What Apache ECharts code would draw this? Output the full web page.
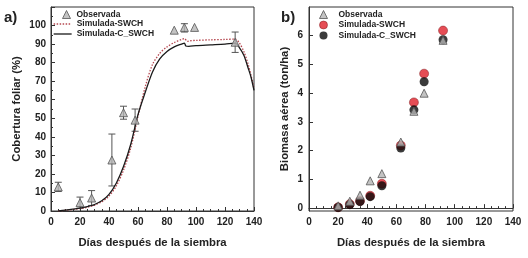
<!DOCTYPE html>
<html>
<head>
<meta charset="utf-8">
<script src="https://cdn.jsdelivr.net/npm/echarts@6/dist/echarts.min.js"></script>
<style>
    html, body {margin: 0; padding: 0; background: #fff;}
    #chart {width: 528px; height: 258px;}
</style>
</head>
<body>
<div id="chart"></div>
<script>
// a) cobertura foliar observada
var obsDiaA = [5, 20, 28, 42, 50, 58, 85, 92, 99, 127];
var obsCobertura = [13, 4.5, 7, 27.5, 53, 49, 97.5, 99, 99, 91];
var obsErrBajo = [2.5, 3, 4, 14, 3.5, 6, 0, 2.5, 0, 5.5];
var obsErrAlto = [2.5, 3, 4, 14, 3.5, 6, 0, 2, 0, 5.5];

// a) curvas simuladas
var simDiaSWCH = [5, 10, 15, 20, 25, 30, 35, 40, 45, 50, 55, 60, 65, 70, 75, 80, 85, 90, 92, 94, 96, 100, 110, 120, 127, 130, 133, 136, 138, 140];
var simSWCH = [0, 0.4, 0.8, 1.3, 2, 3.2, 5, 8, 13.5, 22, 34, 51, 67, 79, 85, 88.5, 90.8, 92.5, 93, 91.5, 91.8, 92, 92.3, 92.5, 92.7, 90.5, 86, 79, 73, 66];
var simDiaCSWCH = [5, 10, 15, 20, 25, 30, 35, 40, 45, 50, 55, 60, 65, 70, 75, 80, 85, 90, 92, 93, 95, 100, 110, 120, 127, 130, 133, 136, 138, 140];
var simCSWCH = [0, 0.5, 1, 1.5, 2.3, 3.5, 5.5, 9, 15, 24, 36, 52, 64, 75, 82, 86, 88.5, 90, 90.5, 89, 88.8, 89.2, 89.6, 90, 90.5, 88, 84, 77, 72, 65];

// b) biomasa aerea
var diaB = [20, 28, 35, 42, 50, 63, 72, 79, 92];
var obsBiomasa = [0.08, 0.24, 0.45, 0.95, 1.2, 2.3, 3.37, 4.0, 5.84];
var simBiomasaSWCH = [0.03, 0.14, 0.25, 0.43, 0.85, 2.18, 3.68, 4.68, 6.18];
var simBiomasaCSWCH = [0.02, 0.12, 0.23, 0.4, 0.78, 2.09, 3.42, 4.4, 5.86];

var xTicks = [0, 20, 40, 60, 80, 100, 120, 140];
var yTicksA = [0, 10, 20, 30, 40, 50, 60, 70, 80, 90, 100];
var yTicksB = [0, 1, 2, 3, 4, 5, 6];

var fuente = "'Liberation Sans', Arial, sans-serif";
var negro = '#222';
var rojoLinea = '#b5474f';
var estiloTriangulo = {color: '#b4b4b4', borderColor: '#555', borderWidth: 1};

function pares(xs, ys) {
    var out = [];
    for (var i = 0; i < xs.length; i++) {
        out.push([xs[i], ys[i]]);
    }
    return out;
}

var barras = [];
for (var i = 0; i < obsDiaA.length; i++) {
    if (obsErrBajo[i] > 0 || obsErrAlto[i] > 0) {
        barras.push([obsDiaA[i], obsCobertura[i] - obsErrBajo[i], obsCobertura[i] + obsErrAlto[i]]);
    }
}

var chart = echarts.init(document.getElementById('chart'));

var tituloEje = {fontFamily: fuente, fontWeight: 'bold', fontSize: 11.3, color: negro};
var etiquetaEje = {fontFamily: fuente, fontWeight: 'bold', fontSize: 10, color: negro};

var ejeX = function (idx) {
    return {
        type: 'value',
        gridIndex: idx,
        min: 0,
        max: 140,
        interval: 20,
        name: 'Días después de la siembra',
        nameLocation: 'middle',
        nameGap: 26,
        nameTextStyle: tituloEje,
        axisLine: {show: true, lineStyle: {color: '#333', width: 1}},
        axisTick: {show: true, inside: true, length: 4, lineStyle: {color: '#333'}},
        minorTick: {show: true, splitNumber: 4, length: 2, lineStyle: {color: '#333'}},
        splitLine: {show: false},
        axisLabel: Object.assign({margin: 6, customValues: xTicks}, etiquetaEje)
    };
};

var leyendaTexto = {fontFamily: fuente, fontWeight: 'bold', fontSize: 8.5, color: negro};

var option = {
    animation: false,
    title: [
        {text: 'a)', left: 4, top: 10, padding: 0, textStyle: {fontFamily: fuente, fontWeight: 'bold', fontSize: 15, color: negro}},
        {text: 'b)', left: 281, top: 10, padding: 0, textStyle: {fontFamily: fuente, fontWeight: 'bold', fontSize: 15, color: negro}}
    ],
    legend: [
        {
            orient: 'vertical', left: 62, top: 10, padding: 0, itemWidth: 8, itemHeight: 8,
            data: [{name: 'Observada', icon: 'triangle', itemStyle: estiloTriangulo}],
            textStyle: Object.assign({padding: [0, 0, 0, 1]}, leyendaTexto)
        },
        {
            orient: 'vertical', left: 53, top: 19, padding: 0, itemGap: 0, itemWidth: 18, itemHeight: 10,
            data: [
                {name: 'Simulada-SWCH', icon: 'line', itemStyle: {color: rojoLinea, borderColor: rojoLinea, borderWidth: 1.3, borderType: [1.5, 1.5]}},
                {name: 'Simulada-C_SWCH', icon: 'line', itemStyle: {color: '#1a1a1a', borderColor: '#1a1a1a', borderWidth: 1.3}}
            ],
            textStyle: Object.assign({lineHeight: 10}, leyendaTexto)
        },
        {
            orient: 'vertical', left: 319, top: 10, padding: 0, itemGap: 1.5, itemWidth: 8, itemHeight: 8,
            data: [
                {name: 'b:Observada', icon: 'triangle', itemStyle: estiloTriangulo},
                {name: 'b:Simulada-SWCH', icon: 'circle', itemStyle: {color: '#e0202a', borderColor: '#7a1016', borderWidth: 0.6}},
                {name: 'b:Simulada-C_SWCH', icon: 'circle', itemStyle: {color: '#0a0a0a', borderWidth: 0}}
            ],
            formatter: function (n) {
                return n.replace('b:', '');
            },
            textStyle: Object.assign({padding: [0, 0, 0, 6]}, leyendaTexto)
        }
    ],
    grid: [
        {left: 51, top: 7, width: 203, height: 204, show: true, borderColor: '#333', borderWidth: 1},
        {left: 309, top: 7, width: 204, height: 204, show: true, borderColor: '#333', borderWidth: 1}
    ],
    xAxis: [ejeX(0), ejeX(1)],
    yAxis: [
        {
            type: 'value',
            gridIndex: 0,
            min: 0,
            max: 110,
            interval: 10,
            name: 'Cobertura foliar (%)',
            nameLocation: 'middle',
            nameGap: 29,
            nameTextStyle: tituloEje,
            axisLine: {show: true, lineStyle: {color: '#333', width: 1}},
            axisTick: {show: true, inside: true, length: 4, lineStyle: {color: '#333'}},
            minorTick: {show: true, splitNumber: 2, length: 2, lineStyle: {color: '#333'}},
            splitLine: {show: false},
            axisLabel: Object.assign({margin: 5, customValues: yTicksA}, etiquetaEje)
        },
        {
            type: 'value',
            gridIndex: 1,
            min: -0.1,
            max: 7,
            name: 'Biomasa aérea (ton/ha)',
            nameLocation: 'middle',
            nameGap: 19,
            nameTextStyle: tituloEje,
            axisLine: {show: true, lineStyle: {color: '#333', width: 1}},
            axisTick: {show: true, inside: true, length: 4, lineStyle: {color: '#333'}, customValues: yTicksB},
            minorTick: {show: false},
            splitLine: {show: false},
            axisLabel: Object.assign({margin: 6, customValues: yTicksB}, etiquetaEje)
        }
    ],
    series: [
        {
            name: 'errores',
            type: 'custom',
            xAxisIndex: 0,
            yAxisIndex: 0,
            z: 2,
            silent: true,
            data: barras,
            renderItem: function (params, api) {
                var x = api.value(0);
                var p1 = api.coord([x, api.value(1)]);
                var p2 = api.coord([x, api.value(2)]);
                var estilo = {stroke: '#555', lineWidth: 1};
                return {
                    type: 'group',
                    children: [
                        {type: 'line', shape: {x1: p1[0], y1: p1[1], x2: p2[0], y2: p2[1]}, style: estilo},
                        {type: 'line', shape: {x1: p1[0] - 3.5, y1: p1[1], x2: p1[0] + 3.5, y2: p1[1]}, style: estilo},
                        {type: 'line', shape: {x1: p2[0] - 3.5, y1: p2[1], x2: p2[0] + 3.5, y2: p2[1]}, style: estilo}
                    ]
                };
            }
        },
        {
            name: 'Simulada-SWCH',
            type: 'line',
            xAxisIndex: 0,
            yAxisIndex: 0,
            smooth: 0.3,
            symbol: 'none',
            z: 3,
            data: pares(simDiaSWCH, simSWCH),
            lineStyle: {color: rojoLinea, width: 1.3, type: [1.5, 1.5]},
            itemStyle: {color: rojoLinea}
        },
        {
            name: 'Simulada-C_SWCH',
            type: 'line',
            xAxisIndex: 0,
            yAxisIndex: 0,
            smooth: 0.3,
            symbol: 'none',
            z: 3,
            data: pares(simDiaCSWCH, simCSWCH),
            lineStyle: {color: '#1a1a1a', width: 1.3},
            itemStyle: {color: '#1a1a1a'}
        },
        {
            name: 'Observada',
            type: 'scatter',
            xAxisIndex: 0,
            yAxisIndex: 0,
            symbol: 'triangle',
            symbolSize: 8,
            z: 4,
            data: pares(obsDiaA, obsCobertura),
            itemStyle: estiloTriangulo
        },
        {
            name: 'b:Simulada-SWCH',
            type: 'scatter',
            xAxisIndex: 1,
            yAxisIndex: 1,
            symbol: 'circle',
            symbolSize: 9,
            z: 3,
            data: pares(diaB, simBiomasaSWCH),
            itemStyle: {color: '#e0202a', borderColor: '#7a1016', borderWidth: 0.6}
        },
        {
            name: 'b:Simulada-C_SWCH',
            type: 'scatter',
            xAxisIndex: 1,
            yAxisIndex: 1,
            symbol: 'circle',
            symbolSize: 9,
            z: 4,
            data: pares(diaB, simBiomasaCSWCH),
            itemStyle: {color: '#0a0a0a'}
        },
        {
            name: 'b:Observada',
            type: 'scatter',
            xAxisIndex: 1,
            yAxisIndex: 1,
            symbol: 'triangle',
            symbolSize: 8,
            z: 5,
            data: pares(diaB, obsBiomasa),
            itemStyle: estiloTriangulo
        }
    ]
};

chart.setOption(option);
</script>
</body>
</html>
